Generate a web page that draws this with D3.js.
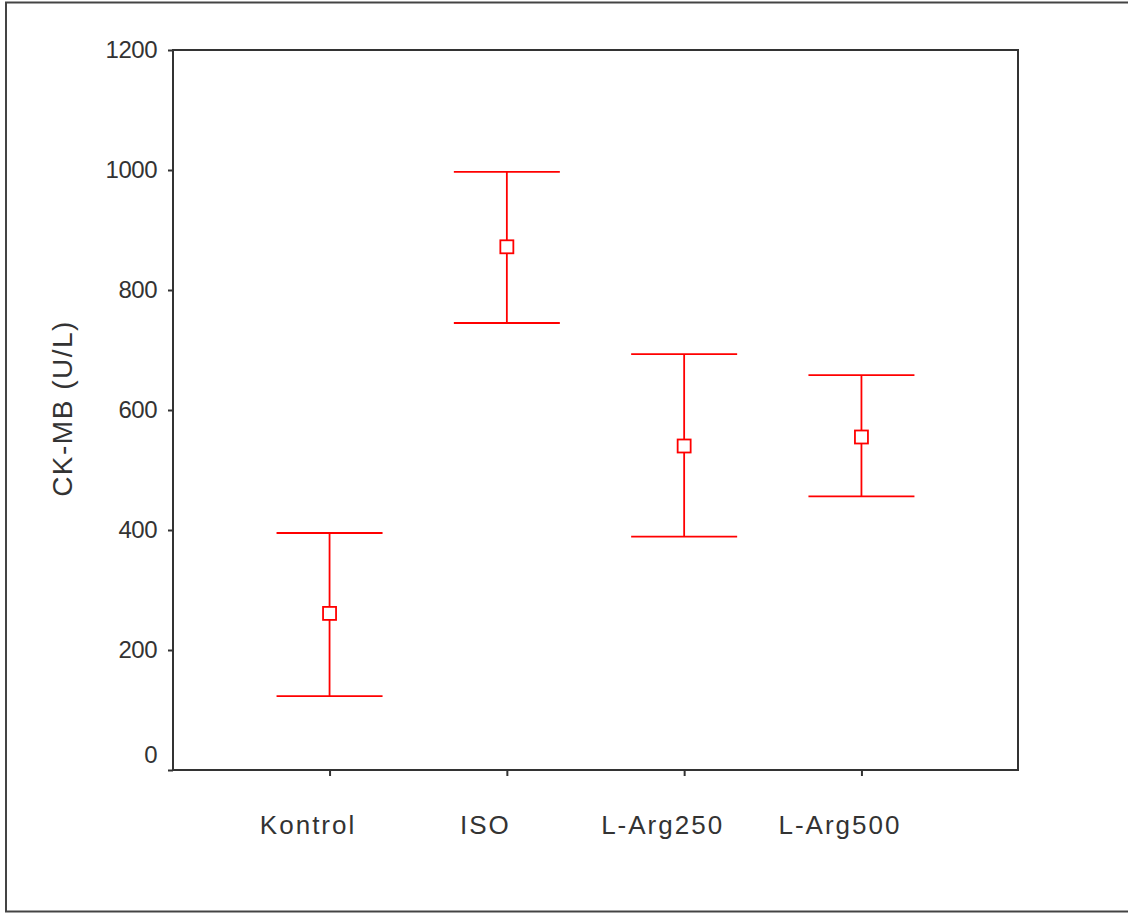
<!DOCTYPE html>
<html>
<head>
<meta charset="utf-8">
<script src="https://cdn.jsdelivr.net/npm/d3@7"></script>
<style>
  html, body { margin: 0; padding: 0; background: #fff; }
  svg { display: block; }
  text { font-family: "Liberation Sans", Arial, sans-serif; fill: #333; }
</style>
</head>
<body>
<svg id="chart" width="1128" height="913"></svg>
<script>
// Data
const categories = ["Kontrol", "ISO", "L-Arg250", "L-Arg500"];
const means = [261, 872, 540, 555];
const upper = [395, 997, 693, 658];
const lower = [123, 745, 389, 456];
const yTicks = [0, 200, 400, 600, 800, 1000, 1200];
const yTitle = "CK-MB (U/L)";

const svg = d3.select("#chart");
const W = 1128, H = 913;
const plot = { left: 173, top: 50, right: 1018, bottom: 770 };

// outer frame
svg.append("rect")
  .attr("x", 6).attr("y", 2.5)
  .attr("width", W + 20).attr("height", 909)
  .attr("fill", "none").attr("stroke", "#444").attr("stroke-width", 2);

const x = d3.scalePoint().domain(categories)
  .range([plot.left, plot.right]).padding(0.883);
const y = d3.scaleLinear().domain([0, 1200]).range([plot.bottom, plot.top]);

// plot box
svg.append("rect")
  .attr("x", plot.left).attr("y", plot.top)
  .attr("width", plot.right - plot.left).attr("height", plot.bottom - plot.top)
  .attr("fill", "none").attr("stroke", "#333").attr("stroke-width", 2);

// y axis
const yAxis = svg.append("g")
  .attr("transform", `translate(${plot.left},0)`)
  .call(d3.axisLeft(y).tickValues(yTicks).tickSize(5).tickPadding(11).tickFormat(d3.format("d")));
yAxis.select(".domain").remove();
yAxis.selectAll(".tick line").attr("stroke", "#333").attr("stroke-width", 2);
yAxis.selectAll(".tick text")
  .attr("font-size", 24)
  .style("font-family", "'Liberation Sans', Arial, sans-serif")
  .attr("fill", "#333")
  .attr("letter-spacing", -0.5)
  .attr("dy", d => d === 0 ? "-0.33em" : "0.32em");

// x axis
const xAxis = svg.append("g")
  .attr("transform", `translate(0,${plot.bottom})`)
  .call(d3.axisBottom(x).tickSize(6).tickPadding(40));
xAxis.select(".domain").remove();
xAxis.selectAll(".tick line").attr("stroke", "#333").attr("stroke-width", 2);
xAxis.selectAll(".tick text")
  .attr("font-size", 26)
  .style("font-family", "'Liberation Sans', Arial, sans-serif")
  .attr("fill", "#333")
  .attr("letter-spacing", 2)
  .attr("dx", -22);

// y title
svg.append("text")
  .attr("transform", `translate(72,${(320 + 497) / 2}) rotate(-90)`)
  .attr("text-anchor", "middle")
  .attr("font-size", 28)
  .attr("letter-spacing", 1.5)
  .text(yTitle);

// error bars
const capHalf = 53;
const g = svg.append("g");
categories.forEach((c, i) => {
  const cx = x(c);
  g.append("line").attr("x1", cx).attr("x2", cx)
    .attr("y1", y(upper[i])).attr("y2", y(lower[i]))
    .attr("stroke", "#ff0000").attr("stroke-width", 1.8);
  [upper[i], lower[i]].forEach(v => {
    g.append("line").attr("x1", cx - capHalf).attr("x2", cx + capHalf)
      .attr("y1", y(v)).attr("y2", y(v))
      .attr("stroke", "#ff0000").attr("stroke-width", 1.8);
  });
  g.append("rect")
    .attr("x", cx - 6.5).attr("y", y(means[i]) - 6.5)
    .attr("width", 13).attr("height", 13)
    .attr("fill", "#fff").attr("stroke", "#ff0000").attr("stroke-width", 1.8);
});
</script>
</body>
</html>
